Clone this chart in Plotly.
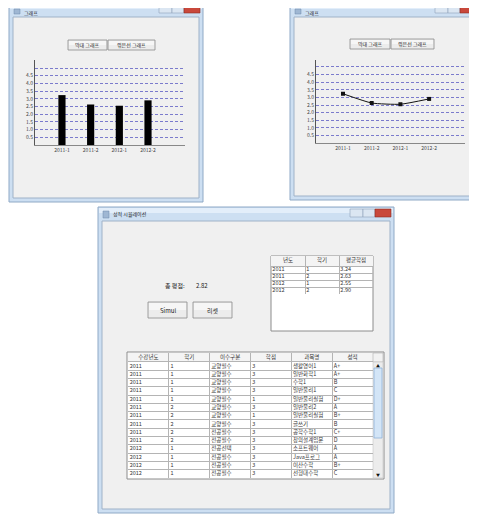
import plotly.graph_objects as go

# ---------------- data ----------------
semesters = ["2011-1", "2011-2", "2012-1", "2012-2"]
gpa = [3.24, 2.63, 2.55, 2.90]
y_tick_vals = [0.5, 1.0, 1.5, 2.0, 2.5, 3.0, 3.5, 4.0, 4.5, 5.0]
y_tick_text = ["0.5", "1.0", "1.5", "2.0", "2.5", "3.0", "3.5", "4.0", "4.5", ""]

summary_header = ["년도", "학기", "평균학점"]
summary_years = ["2011", "2011", "2012", "2012"]
summary_terms = ["1", "2", "1", "2"]
total_label = "총 평점:"
total_gpa = "2.82"

course_header = ["수강년도", "학기", "이수구분", "학점", "과목명", "성적"]
course_years = ["2011"] * 10 + ["2012"] * 4
course_terms = ["1", "1", "1", "1", "1", "2", "2", "2", "2", "2", "1", "1", "1", "1"]
course_types = ["교양필수"] * 8 + ["전공필수", "전공필수", "전공선택", "전공필수", "전공필수", "전공필수"]
course_credits = ["3", "3", "3", "3", "1", "3", "1", "3", "3", "3", "3", "3", "3", "3"]
course_names = ["생활영어1", "일반화학1", "수학1", "일반물리1", "일반물리실험", "일반물리2",
                "일반물리실험", "글쓰기", "공학수학1", "창의설계입문", "소프트웨어",
                "Java프로그", "이산수학", "선형대수학"]
course_grades = ["A+", "A+", "B", "C", "D+", "A", "B+", "B", "C+", "D", "A", "A", "B+", "C"]

win_titles = ["그래프", "그래프", "성적 시뮬레이션"]
chart_buttons = ["막대 그래프", "꺾은선 그래프"]
sim_buttons = ["Simul", "리셋"]

# ---------------- helpers ----------------
OFF = 8                      # page body margin
W, H = 477 - OFF, 516 - OFF
FONT = "Noto Sans CJK KR"


def X(px):
    return (px - OFF) / W


def Y(py):
    return 1 - (py - OFF) / H


shapes = []
annotations = []


def rect(x0, y0, x1, y1, fill, line="rgba(0,0,0,0)", lw=1, layer="below"):
    shapes.append(dict(type="rect", xref="paper", yref="paper",
                       x0=X(x0), x1=X(x1), y0=Y(y1), y1=Y(y0),
                       fillcolor=fill, line=dict(color=line, width=lw), layer=layer))


def text(x, y, s, size=6, color="#333", xanchor="center"):
    annotations.append(dict(xref="paper", yref="paper", x=X(x), y=Y(y), text=s,
                            showarrow=False, xanchor=xanchor, yanchor="middle",
                            font=dict(family=FONT, size=size, color=color)))


def window(x0, y0, x1, y1, title, title_h=14):
    rect(x0, y0, x1, y1, "#cddff2", "#8fa9c6", 1)
    rect(x0 + 1, y0 + 1, x1 - 1, y0 + 6, "#e3eefa")
    rect(x0 + 4, y0 + title_h, x1 - 4, y1 - 4, "#f0f0f0", "#9fb2c8", 1)
    rect(x1 - 44, y0 + 2, x1 - 31, y0 + 10, "#dbe6f2", "#8fa3bb", 0.6)
    rect(x1 - 31, y0 + 2, x1 - 19, y0 + 10, "#dbe6f2", "#8fa3bb", 0.6)
    rect(x1 - 19, y0 + 2, x1 - 3, y0 + 10, "#c9483b", "#8c2b22", 0.6)
    rect(x0 + 5, max(y0 + 4, OFF + 1), x0 + 11, y0 + 11, "#9fb7d3", "#6f8aa8", 0.5)
    text(x0 + 13, max(y0 + 7, OFF + 5), title, size=5, color="#222", xanchor="left")


def button(x0, y0, x1, y1, label, size=5):
    rect(x0, y0, x1, y1, "#ececec", "#8a8a8a", 0.8)
    rect(x0 + 1, y0 + 1, x1 - 1, (y0 + y1) / 2, "#f6f6f6")
    text((x0 + x1) / 2, (y0 + y1) / 2, label, size=size, color="#222")


# ---------------- windows ----------------
window(9, 3, 203, 202, win_titles[0])
window(290, 3, 479, 200, win_titles[1])
window(98, 207, 394, 513, win_titles[2])

button(68, 40, 107, 50, chart_buttons[0])
button(108, 40, 155, 50, chart_buttons[1])
button(350, 39, 390, 49, chart_buttons[0])
button(391, 39, 434, 49, chart_buttons[1])

button(148, 302, 187, 318, sim_buttons[0], size=6)
button(193, 302, 232, 318, sim_buttons[1], size=6)

text(175, 285, total_label, size=6, color="#222")
text(202, 285, total_gpa, size=6, color="#222")

# summary table frame (white area below rows)
rect(271, 256, 373, 331, "#ffffff", "#8c8c8c", 1)
rect(271, 256, 373, 266, "#f4f4f4")
# main table frame + scrollbar
rect(127, 352, 384, 479, "#ffffff", "#8c8c8c", 1)
rect(128, 353, 373, 362, "#f4f4f4")
rect(373, 353, 383, 362, "#f2f2f2", "#b0b0b0", 0.6)
rect(373, 362, 383, 478, "#ececec", "#c8c8c8", 0.6)
rect(374, 368, 382, 438, "#d3e5f7", "#8fb3d9", 0.8)
text(378, 366, "▲", size=4, color="#111")
text(378, 475, "▼", size=4, color="#111")

fig = go.Figure()

# ---------------- bar chart ----------------
fig.add_trace(go.Bar(x=list(range(len(semesters))), y=gpa, width=0.25,
                     marker=dict(color="#000000", line=dict(width=0)),
                     xaxis="x", yaxis="y", showlegend=False))

# ---------------- line chart ----------------
fig.add_trace(go.Scatter(x=list(range(len(semesters))), y=gpa, mode="lines+markers",
                         line=dict(color="#111111", width=1, shape="spline", smoothing=0.5),
                         marker=dict(symbol="square", size=4, color="#111111"),
                         xaxis="x2", yaxis="y2", showlegend=False))


# ---------------- tables drawn on their own axes ----------------
def table_text(columns, header, header_h, xa, ya, size=5.5):
    xs, ys, ts = [], [], []
    for ci, h in enumerate(header):
        xs.append(ci + 0.5)
        ys.append(header_h / 2)
        ts.append(h)
    fig.add_trace(go.Scatter(x=xs, y=ys, text=ts, mode="text", textposition="middle center",
                             textfont=dict(family=FONT, size=size, color="#333"),
                             xaxis=xa, yaxis=ya, showlegend=False, hoverinfo="skip"))
    xs, ys, ts = [], [], []
    for ci, col in enumerate(columns):
        for ri, v in enumerate(col):
            xs.append(ci + 0.04)
            ys.append(header_h + ri + 0.5)
            ts.append(v)
    fig.add_trace(go.Scatter(x=xs, y=ys, text=ts, mode="text", textposition="middle right",
                             textfont=dict(family=FONT, size=size, color="#333"),
                             xaxis=xa, yaxis=ya, showlegend=False, hoverinfo="skip"))


sum_cols = [summary_years, summary_terms, ["%.2f" % v for v in gpa]]
sum_hh = 10 / 7.0
table_text(sum_cols, summary_header, sum_hh, "x3", "y3")

course_cols = [course_years, course_terms, course_types, course_credits, course_names, course_grades]
course_hh = 9 / 8.3
table_text(course_cols, course_header, course_hh, "x4", "y4")

axis_common = dict(showgrid=False, zeroline=False, showline=True, ticks="",
                   tickfont=dict(family=FONT, size=5, color="#444"), fixedrange=True)
yaxis_common = dict(showgrid=True, gridcolor="#7b7bcc", griddash="3px,2px", gridwidth=1,
                    zeroline=False, showline=True, linecolor="#555", linewidth=1,
                    tickvals=y_tick_vals, ticktext=y_tick_text, ticks="",
                    tickfont=dict(family=FONT, size=5, color="#444"), fixedrange=True)
table_axis = dict(showgrid=True, gridcolor="#b4b4b4", gridwidth=0.7, zeroline=False,
                  showline=False, showticklabels=False, ticks="", fixedrange=True)

n_sum = len(summary_years)
n_course = len(course_years)

fig.update_layout(
    width=W, height=H, margin=dict(l=0, r=0, t=0, b=0),
    paper_bgcolor="#ffffff", plot_bgcolor="rgba(0,0,0,0)",
    font=dict(family=FONT),
    xaxis=dict(domain=[X(35), X(185)], range=[-0.94, 4.29], anchor="y",
               tickvals=list(range(len(semesters))), ticktext=semesters,
               linecolor="#888", linewidth=1, **axis_common),
    yaxis=dict(domain=[Y(145), Y(60)], range=[0, 5.52], anchor="x", **yaxis_common),
    xaxis2=dict(domain=[X(316), X(465)], range=[-0.94, 4.25], anchor="y2",
                tickvals=list(range(len(semesters))), ticktext=semesters,
                linecolor="#888", linewidth=1, **axis_common),
    yaxis2=dict(domain=[Y(143), Y(60)], range=[0, 5.46], anchor="x2", **yaxis_common),
    xaxis3=dict(domain=[X(271), X(373)], range=[0, 3], anchor="y3",
                tickvals=[1, 2], **table_axis),
    yaxis3=dict(domain=[Y(256 + 10 + 7 * n_sum), Y(256)], range=[sum_hh + n_sum, 0], anchor="x3",
                tickvals=[sum_hh + i for i in range(n_sum + 1)], **table_axis),
    xaxis4=dict(domain=[X(128), X(373)], range=[0, 6], anchor="y4",
                tickvals=[1, 2, 3, 4, 5], **table_axis),
    yaxis4=dict(domain=[Y(478), Y(353)], range=[course_hh + n_course, 0], anchor="x4",
                tickvals=[course_hh + i for i in range(n_course)], **table_axis),
    shapes=shapes, annotations=annotations,
)

fig.write_html("out.html")
